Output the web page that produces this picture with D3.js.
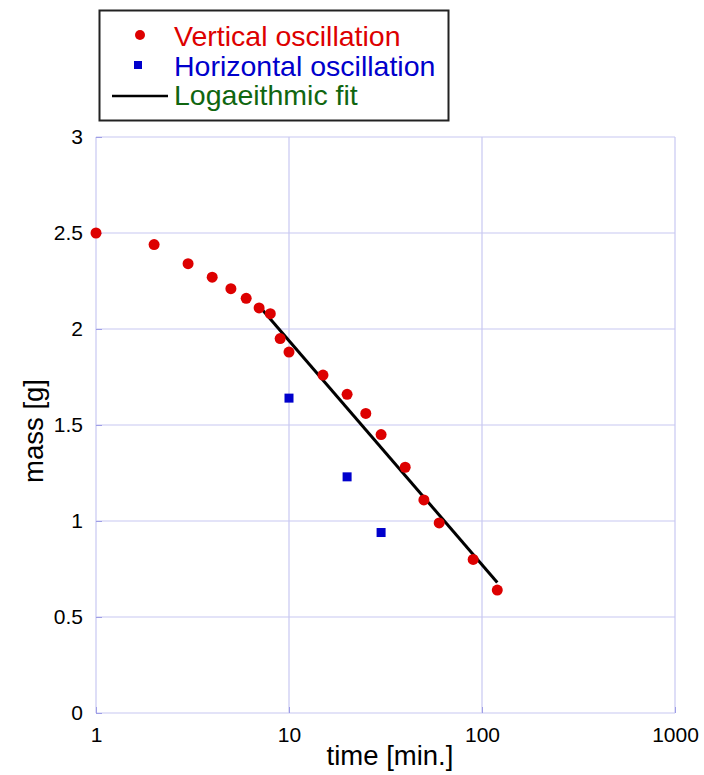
<!DOCTYPE html>
<html>
<head>
<meta charset="utf-8">
<script src="https://cdn.jsdelivr.net/npm/d3@7"></script>
<style>
  body { margin: 0; background: #fff; }
  svg { font-family: "Liberation Sans", Arial, sans-serif; }
</style>
</head>
<body>
<svg id="chart" width="704" height="775"></svg>
<script>
// vertical oscillation samples
var vertTime = [1, 2, 3, 4, 5, 6, 7, 8, 9, 10, 15, 20, 25, 30, 40, 50, 60, 90, 120];
var vertMass = [2.5, 2.44, 2.34, 2.27, 2.21, 2.16, 2.11, 2.08, 1.95, 1.88, 1.76, 1.66, 1.56, 1.45, 1.28, 1.11, 0.99, 0.80, 0.64];

// horizontal oscillation samples
var horzTime = [10, 20, 30];
var horzMass = [1.64, 1.23, 0.94];

// logarithmic fit end points
var fitTime = [7, 120];
var fitMass = [2.12, 0.68];

var xTicks = [1, 10, 100, 1000];
var yTicks = [0, 0.5, 1, 1.5, 2, 2.5, 3];

var legendLabels = ['Vertical oscillation', 'Horizontal oscillation', 'Logaeithmic fit'];

(function() {
    var svg = d3.select('#chart');
    var pLeft = 96, pRight = 675, pTop = 137, pBottom = 713;

    var x = d3.scaleLog().domain([1, 1000]).range([pLeft, pRight]);
    var y = d3.scaleLinear().domain([0, 3]).range([pBottom, pTop]);

    var gridColor = '#c8c8f2';

    // grid lines (outer ones make the frame)
    svg.append('g').selectAll('line').data(xTicks).enter().append('line')
        .attr('x1', function(d) { return x(d); })
        .attr('x2', function(d) { return x(d); })
        .attr('y1', pTop).attr('y2', pBottom)
        .style('stroke', gridColor).style('stroke-width', 1.2);

    svg.append('g').selectAll('line').data(yTicks).enter().append('line')
        .attr('x1', pLeft).attr('x2', pRight)
        .attr('y1', function(d) { return y(d); })
        .attr('y2', function(d) { return y(d); })
        .style('stroke', gridColor).style('stroke-width', 1.2);

    var xAxis = svg.append('g')
        .attr('transform', 'translate(0,' + pBottom + ')')
        .call(d3.axisBottom(x).tickValues(xTicks).tickFormat(d3.format('d')).tickSize(-6).tickPadding(14));
    var yAxis = svg.append('g')
        .attr('transform', 'translate(' + pLeft + ',0)')
        .call(d3.axisLeft(y).tickValues(yTicks).tickFormat(function(d) { return d; }).tickSize(-6).tickPadding(13));

    [xAxis, yAxis].forEach(function(a) {
        a.select('.domain').remove();
        a.selectAll('.tick line').style('stroke', '#9e9ee6');
        a.selectAll('.tick text')
            .style('font-size', '21px')
            .style('font-family', '"Liberation Sans", Arial, sans-serif')
            .style('fill', '#000');
    });

    // axis titles
    svg.append('text')
        .attr('x', 390).attr('y', 765)
        .attr('text-anchor', 'middle')
        .style('font-size', '27.5px')
        .text('time [min.]');

    svg.append('text')
        .attr('transform', 'translate(43,431) rotate(-90)')
        .attr('text-anchor', 'middle')
        .style('font-size', '27.5px')
        .text('mass [g]');

    // fit line
    var line = d3.line()
        .x(function(d) { return x(d[0]); })
        .y(function(d) { return y(d[1]); });

    svg.append('path')
        .datum(d3.zip(fitTime, fitMass))
        .attr('d', line)
        .style('fill', 'none')
        .style('stroke', '#000')
        .style('stroke-width', 3);

    // vertical points
    svg.append('g').selectAll('circle').data(d3.zip(vertTime, vertMass)).enter().append('circle')
        .attr('cx', function(d) { return x(d[0]); })
        .attr('cy', function(d) { return y(d[1]); })
        .attr('r', 5.5)
        .style('fill', '#dd0000');

    // horizontal points
    var sq = 9;
    svg.append('g').selectAll('rect').data(d3.zip(horzTime, horzMass)).enter().append('rect')
        .attr('x', function(d) { return x(d[0]) - sq / 2; })
        .attr('y', function(d) { return y(d[1]) - sq / 2; })
        .attr('width', sq).attr('height', sq)
        .style('fill', '#0000cc');

    // legend
    var legend = svg.append('g');
    legend.append('rect')
        .attr('x', 99.5).attr('y', 10.5)
        .attr('width', 349).attr('height', 110)
        .style('fill', '#fff')
        .style('stroke', '#222')
        .style('stroke-width', 2);

    var legendColors = ['#dd0000', '#0000cc', '#106610'];
    legend.selectAll('text').data(legendLabels).enter().append('text')
        .attr('x', 174)
        .attr('y', function(d, i) { return 46 + i * 29.5; })
        .style('font-size', '28.5px')
        .style('fill', function(d, i) { return legendColors[i]; })
        .text(function(d) { return d; });

    legend.append('circle').attr('cx', 140).attr('cy', 35).attr('r', 5).style('fill', '#dd0000');
    legend.append('rect').attr('x', 134).attr('y', 61).attr('width', 8).attr('height', 8).style('fill', '#0000cc');
    legend.append('line').attr('x1', 112).attr('x2', 168).attr('y1', 96).attr('y2', 96)
        .style('stroke', '#000').style('stroke-width', 2.5);
})();
</script>
</body>
</html>
